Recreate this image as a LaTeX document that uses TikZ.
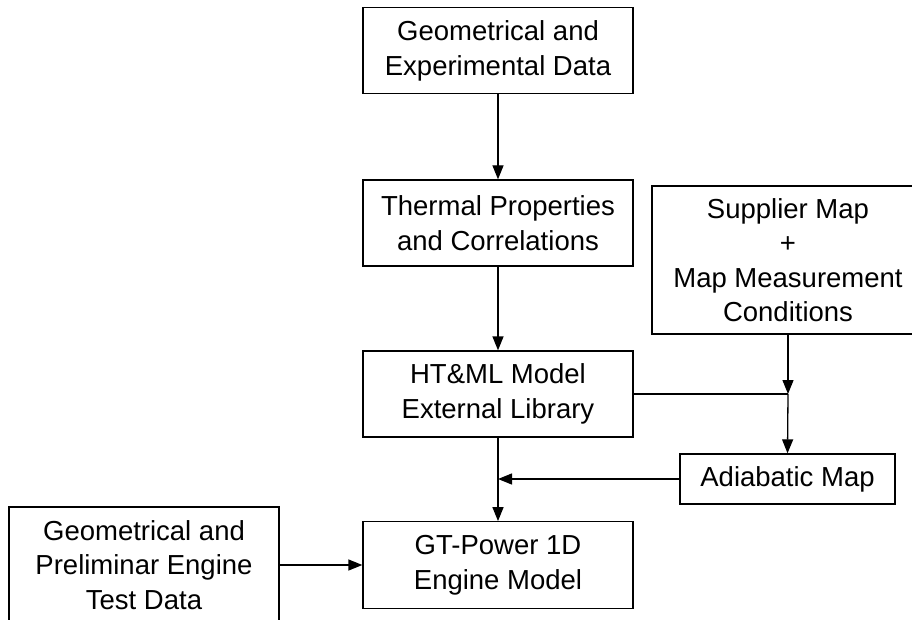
\documentclass[tikz,border=0pt]{standalone}
\usepackage{fontspec}
\setmainfont{Liberation Sans}
\usetikzlibrary{arrows.meta}

\begin{document}
\begin{tikzpicture}[x=1pt,y=-1pt,
  every node/.style={font=\fontsize{27.5}{34.5}\selectfont},
  block/.style={draw=black, line width=1.3pt, align=center, inner sep=0pt,
    minimum width=270pt, minimum height=86pt},
  link/.style={line width=1.3pt, draw=black},
  arr/.style={link, -{Triangle[length=14pt,width=11pt]}}]
  \clip (0,0) rectangle (912,620);
  \fill[white] (0,0) rectangle (912,620);

  % main column
  \node[block] (geo) at (498,50.75) {Geometrical and\\Experimental Data};
  \node[block] (therm) at (498,223) {Thermal Properties\\and Correlations};
  \node[block] (html) at (498,394) {HT\&ML Model\\External Library};
  \node[block, minimum height=86.5pt] (gt) at (498,565) {GT-Power 1D\\Engine Model};

  % side inputs
  \node[block, minimum width=272pt, minimum height=148pt] (supp) at (788,260)
    {Supplier Map\\+\\Map Measurement\\Conditions};
  \node[block, minimum width=215pt, minimum height=50pt] (adia) at (787.5,479)
    {Adiabatic Map};
  \node[block, minimum height=116pt] (prelim) at (144,565)
    {Geometrical and\\Preliminar Engine\\Test Data};

  \coordinate (join) at (supp.south |- html.east);

  % connectors
  \draw[arr] (geo) -- (therm);
  \draw[arr] (therm) -- (html);
  \draw[arr] (html) -- (gt);
  \draw[link] (html.east) -- (join);
  \draw[arr] (supp.south) -- (join);
  \draw[arr] (join) -- (adia.north);
  \draw[arr] (adia.west) -- (html.south |- adia.west);
  \draw[arr] (prelim.east |- gt.west) -- (gt.west);
\end{tikzpicture}
\end{document}
